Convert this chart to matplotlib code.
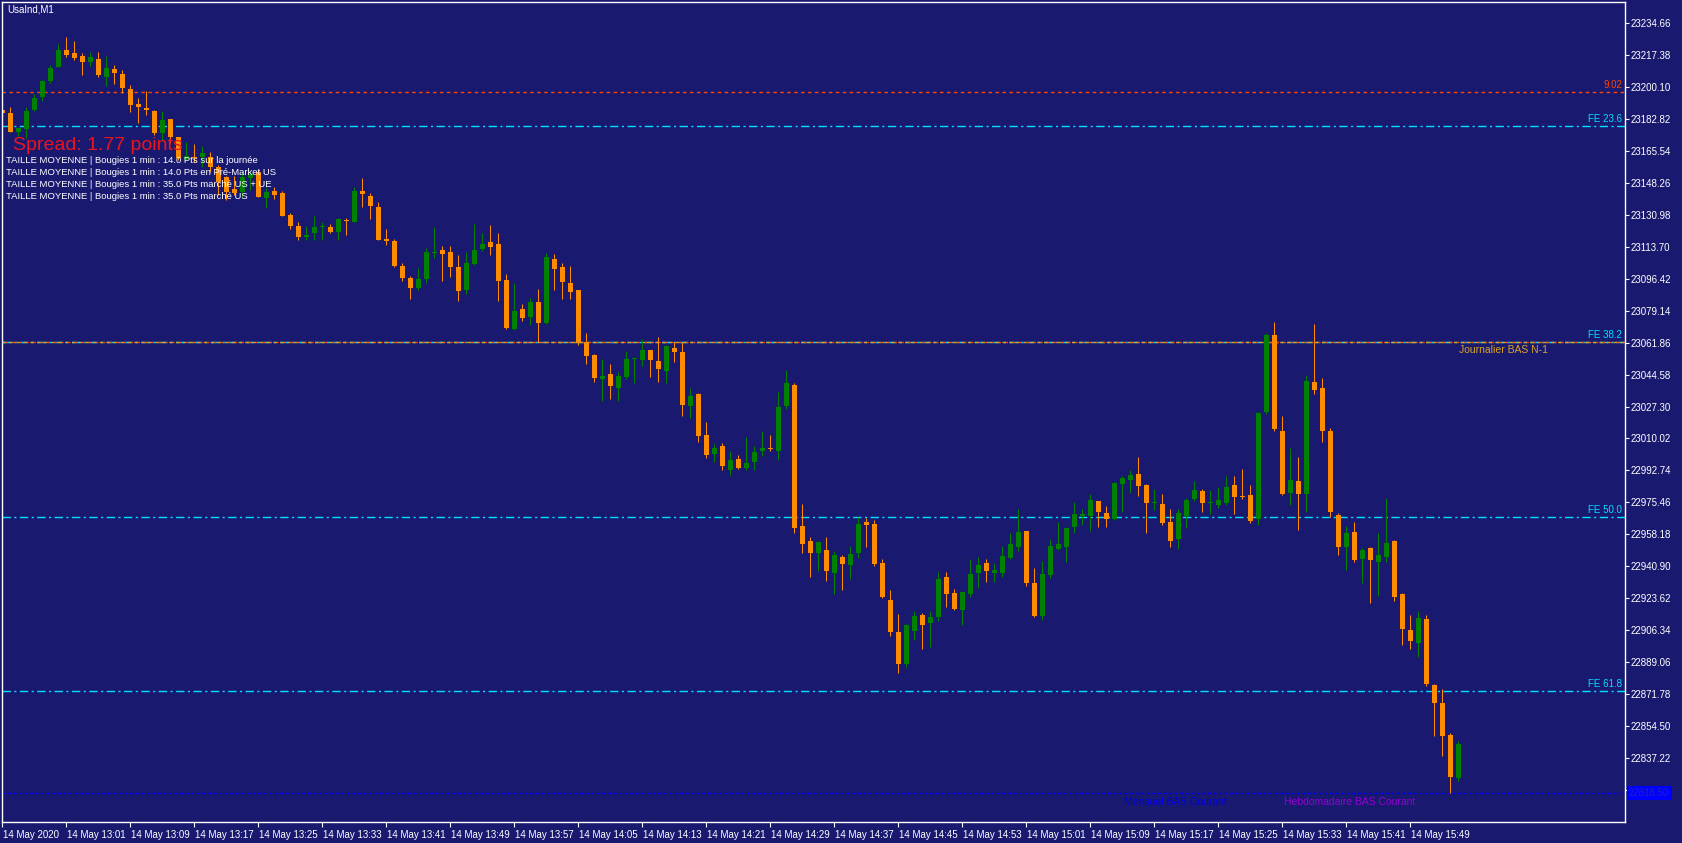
#!/usr/bin/env python3
import datetime
import numpy as np
import matplotlib
matplotlib.use('Agg')
import matplotlib.pyplot as plt
import matplotlib.transforms as mtransforms

W, H = 1683, 843
BG = '#191970'
BULL = '#008000'
BEAR = '#ff8c00'

start = datetime.datetime(2020, 5, 14, 12, 53)  # first bar on screen, M1

opens = [23187.5, 23185.9, 23175.8, 23177.2, 23187.5, 23194.7, 23203.2, 23210.9, 23219.9, 23218.3,
         23216.7, 23213.6, 23215.1, 23205.5, 23209.7, 23207.0, 23198.8, 23190.7, 23188.4, 23187.0,
         23174.9, 23182.5, 23172.8, 23160.9, 23162.3, 23162.3, 23162.3, 23156.5, 23151.5, 23144.8,
         23143.2, 23150.6, 23154.2, 23139.8, 23143.9, 23142.8, 23130.8, 23124.8, 23118.7, 23120.9,
         23124.1, 23124.4, 23121.7, 23128.1, 23127.1, 23143.7, 23141.0, 23135.1, 23117.8, 23116.7,
         23103.2, 23096.7, 23091.3, 23096.2, 23110.2, 23111.9, 23110.8, 23102.7, 23090.2, 23104.3,
         23112.4, 23116.2, 23115.1, 23095.6, 23069.2, 23080.0, 23075.7, 23083.8, 23072.4, 23107.0,
         23102.7, 23094.0, 23090.2, 23062.2, 23055.1, 23042.2, 23044.9, 23037.3, 23043.2, 23053.0,
         23052.4, 23057.8, 23051.9, 23046.5, 23058.9, 23056.7, 23027.6, 23034.1, 23011.9, 23001.6,
         23006.0, 22993.0, 22998.9, 22994.2, 22997.3, 23003.4, 23004.7, 23003.3, 23027.6, 23038.9,
         22962.7, 22954.6, 22948.1, 22949.8, 22937.3, 22946.0, 22941.7, 22948.1, 22964.9, 22963.8,
         22942.7, 22922.8, 22905.5, 22888.2, 22906.0, 22914.7, 22910.3, 22913.6, 22935.2, 22926.5,
         22917.4, 22926.0, 22937.3, 22942.7, 22937.3, 22937.3, 22945.4, 22951.4, 22960.0, 22931.9,
         22914.1, 22936.3, 22950.3, 22951.4, 22962.2, 22968.1, 22968.1, 22976.2, 22969.8, 22966.5,
         22985.4, 22987.6, 22990.8, 22984.9, 22975.3, 22974.6, 22964.9, 22955.7, 22968.1, 22977.3,
         22981.6, 22975.3, 22974.1, 22975.2, 22984.9, 22978.9, 22979.5, 22966.5, 23024.3, 23065.9,
         23014.1, 22980.6, 22987.0, 22980.0, 23040.5, 23037.3, 23014.1, 22968.7, 22951.4, 22959.5,
         22944.9, 22950.9, 22943.3, 22946.0, 22954.6, 22926.0, 22906.5, 22899.5, 22912.5, 22876.8,
         22867.1, 22849.8, 22826.6]
highs = [23188.6, 23189.0, 23178.3, 23189.0, 23196.1, 23203.7, 23212.0, 23223.2, 23227.1, 23224.8,
         23218.1, 23218.7, 23218.7, 23216.8, 23212.0, 23209.1, 23201.0, 23193.8, 23197.9, 23187.4,
         23187.0, 23182.6, 23173.1, 23170.4, 23169.0, 23168.1, 23165.0, 23157.8, 23151.8, 23152.0,
         23154.0, 23154.2, 23155.1, 23145.2, 23146.1, 23143.7, 23132.0, 23126.8, 23125.0, 23130.4,
         23126.8, 23125.9, 23129.3, 23129.3, 23146.1, 23150.9, 23142.5, 23137.6, 23123.2, 23117.8,
         23104.7, 23097.8, 23102.1, 23112.8, 23124.3, 23114.0, 23114.0, 23109.2, 23110.8, 23125.9,
         23121.0, 23125.4, 23121.0, 23098.9, 23094.0, 23082.7, 23085.9, 23090.8, 23110.2, 23109.7,
         23104.8, 23103.2, 23090.5, 23067.0, 23055.4, 23053.0, 23050.3, 23045.9, 23057.3, 23054.0,
         23063.8, 23058.1, 23064.9, 23060.5, 23062.2, 23062.2, 23037.3, 23034.6, 23018.9, 23007.0,
         23007.6, 23003.3, 23001.1, 23010.8, 23006.0, 23014.1, 23011.9, 23035.1, 23047.0, 23040.0,
         22974.6, 22956.8, 22954.4, 22956.8, 22949.2, 22947.1, 22951.9, 22967.6, 22967.1, 22966.0,
         22944.9, 22928.2, 22915.2, 22909.8, 22916.8, 22915.7, 22916.8, 22937.9, 22937.9, 22928.7,
         22927.4, 22944.9, 22946.0, 22944.9, 22942.7, 22951.9, 22959.0, 22971.9, 22960.3, 22940.0,
         22943.8, 22955.7, 22964.9, 22962.2, 22975.7, 22971.9, 22980.0, 22976.5, 22973.5, 22986.3,
         22989.8, 22993.0, 23000.0, 22985.2, 22982.7, 22980.0, 22971.9, 22971.9, 22977.9, 22987.0,
         22982.7, 22982.2, 22983.8, 22989.8, 22989.8, 22993.5, 22984.9, 23024.1, 23067.0, 23073.0,
         23022.2, 23004.9, 23000.0, 23044.3, 23071.9, 23042.7, 23015.7, 22969.8, 22962.7, 22964.9,
         22950.9, 22951.2, 22959.0, 22977.9, 22954.9, 22926.3, 22914.7, 22916.8, 22914.7, 22877.4,
         22874.7, 22850.9, 22846.6]
lows = [23185.3, 23175.6, 23173.5, 23172.2, 23186.8, 23192.4, 23202.1, 23210.5, 23216.3, 23214.5,
        23206.4, 23211.3, 23205.5, 23200.6, 23201.5, 23196.8, 23186.6, 23180.6, 23184.6, 23174.0,
        23170.9, 23169.7, 23160.5, 23160.5, 23159.6, 23156.9, 23154.2, 23141.6, 23138.9, 23141.6,
        23140.5, 23144.3, 23140.3, 23134.7, 23139.4, 23130.2, 23123.2, 23117.3, 23117.3, 23117.3,
        23117.3, 23121.0, 23117.3, 23120.0, 23127.0, 23135.3, 23128.6, 23117.0, 23114.6, 23102.9,
        23095.3, 23085.4, 23090.2, 23094.0, 23107.7, 23095.1, 23097.3, 23084.3, 23088.1, 23104.0,
        23111.3, 23109.2, 23084.3, 23069.4, 23068.9, 23073.5, 23071.3, 23062.0, 23072.0, 23090.2,
        23085.4, 23085.4, 23060.5, 23050.3, 23040.5, 23030.3, 23031.4, 23030.3, 23042.2, 23040.0,
        23049.2, 23043.2, 23040.5, 23040.0, 23051.3, 23022.2, 23021.1, 23008.1, 22999.5, 22997.3,
        22993.0, 22990.3, 22993.5, 22993.0, 22993.0, 23000.6, 23003.3, 22998.4, 23026.0, 22959.0,
        22948.1, 22935.2, 22938.4, 22933.0, 22926.0, 22928.2, 22934.1, 22945.4, 22951.4, 22941.1,
        22924.1, 22903.3, 22883.3, 22886.6, 22901.1, 22896.3, 22897.4, 22911.4, 22919.0, 22917.6,
        22909.2, 22924.4, 22929.2, 22932.5, 22932.5, 22935.2, 22945.1, 22949.2, 22930.3, 22913.6,
        22911.9, 22934.6, 22950.0, 22943.3, 22959.0, 22963.3, 22960.0, 22962.2, 22962.2, 22966.0,
        22970.3, 22980.6, 22978.9, 22959.0, 22971.4, 22963.3, 22951.4, 22950.3, 22961.7, 22976.2,
        22970.3, 22969.2, 22972.5, 22974.1, 22969.2, 22977.3, 22964.4, 22963.3, 23023.3, 23014.1,
        22979.5, 22974.1, 22960.6, 22970.3, 23034.1, 23008.1, 22967.6, 22947.1, 22939.0, 22943.3,
        22931.9, 22921.1, 22924.9, 22943.3, 22922.2, 22898.4, 22896.3, 22892.0, 22876.3, 22849.3,
        22838.5, 22818.5, 22825.0]
closes = [23185.9, 23175.8, 23177.9, 23187.0, 23193.8, 23203.3, 23210.4, 23219.9, 23217.2, 23215.8,
          23213.4, 23216.1, 23206.4, 23210.2, 23207.7, 23199.4, 23190.4, 23189.3, 23187.5, 23174.9,
          23182.1, 23172.8, 23161.4, 23162.6, 23161.4, 23164.1, 23156.9, 23148.8, 23143.4, 23142.5,
          23151.3, 23152.8, 23140.7, 23143.4, 23141.6, 23130.4, 23124.8, 23118.7, 23120.0, 23124.4,
          23124.8, 23121.7, 23128.6, 23127.7, 23143.7, 23142.0, 23135.8, 23117.3, 23116.7, 23103.2,
          23096.7, 23091.3, 23096.2, 23110.8, 23110.6, 23109.7, 23102.7, 23089.7, 23104.8, 23111.9,
          23115.1, 23113.5, 23095.1, 23069.7, 23078.9, 23075.1, 23083.8, 23072.4, 23108.1, 23101.6,
          23094.6, 23089.2, 23061.6, 23054.6, 23042.7, 23043.8, 23038.4, 23043.8, 23053.0, 23053.3,
          23057.8, 23052.4, 23047.6, 23060.0, 23056.7, 23028.1, 23033.0, 23011.4, 23001.1, 23004.9,
          22995.2, 22998.4, 22994.2, 22996.8, 23002.7, 23004.9, 23004.3, 23027.0, 23040.0, 22961.7,
          22953.0, 22948.1, 22954.1, 22938.4, 22947.1, 22942.2, 22947.6, 22963.8, 22963.3, 22942.2,
          22924.4, 22905.5, 22888.2, 22909.2, 22914.1, 22909.2, 22913.6, 22934.1, 22926.0, 22917.9,
          22927.1, 22936.8, 22941.7, 22938.4, 22939.0, 22946.5, 22953.0, 22959.5, 22931.9, 22914.1,
          22936.8, 22951.9, 22953.0, 22961.7, 22969.2, 22969.2, 22976.8, 22970.3, 22966.5, 22986.0,
          22988.7, 22990.3, 22984.3, 22975.2, 22975.9, 22964.4, 22954.6, 22969.8, 22976.8, 22982.2,
          22975.2, 22975.7, 22976.8, 22983.8, 22978.4, 22978.4, 22965.4, 23023.8, 23065.9, 23015.1,
          22980.0, 22987.6, 22980.0, 23041.1, 23036.2, 23014.1, 22970.3, 22951.4, 22959.0, 22944.4,
          22949.8, 22944.4, 22947.1, 22953.6, 22924.4, 22907.1, 22900.6, 22913.0, 22877.4, 22867.1,
          22849.3, 22827.1, 22845.0]

# horizontal levels drawn by the indicators
fe_levels = [23178.7, 23061.9, 22967.4, 22873.6]
fe_names = ['FE 23.6', 'FE 38.2', 'FE 50.0', 'FE 61.8']
red_level = 23197.2
day_low_prev = 23061.9
month_low = 22818.5
week_low = 22818.5

avg_lines = ['TAILLE MOYENNE | Bougies 1 min : 14.0 Pts sur la journée',
             'TAILLE MOYENNE | Bougies 1 min : 14.0 Pts en Pré-Market US',
             'TAILLE MOYENNE | Bougies 1 min : 35.0 Pts marché US + UE',
             'TAILLE MOYENNE | Bougies 1 min : 35.0 Pts marché US']

plt.rcParams['font.family'] = ['Liberation Sans', 'DejaVu Sans']

fig = plt.figure(figsize=(W / 100, H / 100), dpi=100, facecolor=BG)
ax = fig.add_axes([2.3 / W, 21 / H, 1622.7 / W, 819.7 / H], facecolor=BG)

o = np.array(opens)
h = np.array(highs)
l = np.array(lows)
c = np.array(closes)
idx = np.arange(len(o))
colors = np.where(c >= o, BULL, BEAR)

ax.vlines(idx, l, h, colors=colors, linewidth=0.75, zorder=2)
body = np.maximum(np.abs(c - o), 0.6)
ax.bar(idx, body, bottom=np.minimum(o, c), width=0.62, color=colors,
       linewidth=0, zorder=2)

# levels
for lv, name in zip(fe_levels, fe_names):
    ax.axhline(lv, color='#00e1ff', linewidth=1, linestyle=(0, (6, 2.5, 1.5, 2.5)), zorder=1.5)
    ax.annotate(name, xy=(1, lv), xycoords=('axes fraction', 'data'),
                xytext=(-2, 1.5), textcoords='offset points', ha='right', va='bottom',
                color='#00e1ff', fontsize=7)
ax.axhline(day_low_prev, color='#daa520', linewidth=1, linestyle=(0, (2.5, 2.5)), zorder=1.6)
ax.axhline(red_level, color='#ff4500', linewidth=1, linestyle=(0, (2.5, 2.5)), zorder=1.6)
ax.axhline(day_low_prev, color='#ff4500', linewidth=1, linestyle=(2.5, (1.5, 3.5)), zorder=1.7)
ax.annotate('9.02', xy=(1, red_level), xycoords=('axes fraction', 'data'),
            xytext=(-2, 1.5), textcoords='offset points', ha='right', va='bottom',
            color='#ff4500', fontsize=7)
ax.annotate('Journalier BAS N-1', xy=(187.6, day_low_prev), xytext=(0, -2),
            textcoords='offset points', ha='center', va='top', color='#daa520', fontsize=7.5)

ax.axhline(month_low, color='#0000ff', linewidth=1, linestyle=(0, (2, 2)), zorder=1.5)
ax.annotate('Mensuel BAS Courant', xy=(146.6, month_low), xytext=(0, -3),
            textcoords='offset points', ha='center', va='top', color='#0000e6', fontsize=7.5)
ax.annotate('Hebdomadaire BAS Courant', xy=(168.4, week_low), xytext=(0, -3),
            textcoords='offset points', ha='center', va='top', color='#9400d3', fontsize=7.5)

ax.set_xlim(0, 202.84)
ax.set_ylim(22802.8, 23245.7)

# axes and ticks, MT4 style
for s in ax.spines.values():
    s.set_color('white')
    s.set_linewidth(1)

yt = 22819.94 + 17.28 * np.arange(25)
ax.yaxis.tick_right()
ax.set_yticks(yt)
ax.set_yticklabels(['%.2f' % v for v in yt])
ax.tick_params(axis='y', colors='white', labelsize=7, length=3, width=0.8, pad=1)

xt = [0] + list(range(8, len(o), 8))
xl = []
for k in xt:
    t = start + datetime.timedelta(minutes=k)
    xl.append('14 May 2020' if k == 0 else t.strftime('%d %b %H:%M').lstrip('0'))
ax.set_xticks(xt)
ax.set_xticklabels(xl)
ax.tick_params(axis='x', colors='white', labelsize=7, length=3.5, width=0.8, pad=2)
offset = mtransforms.ScaledTranslation(1 / 100, 0, fig.dpi_scale_trans)
for lbl in ax.get_xticklabels():
    lbl.set_ha('left')
    lbl.set_transform(lbl.get_transform() + offset)

trans = mtransforms.blended_transform_factory(ax.transAxes, ax.transData)
ax.text(1.0025, month_low, '22818.50', transform=trans, ha='left', va='center',
        fontsize=7, color='#2020c0', zorder=5, clip_on=False,
        bbox=dict(boxstyle='square,pad=0.25', fc='#0000ff', ec='none'))

# texts on the chart
fig.text(7 / W, 1 - 9 / H, 'UsaInd,M1', color='white', fontsize=7, ha='left', va='center')
fig.text(13 / W, 1 - 145 / H, 'Spread: 1.77 points', color='#e8141e', fontsize=14,
         ha='left', va='center', zorder=10)
for i, line in enumerate(avg_lines):
    fig.text(6 / W, 1 - (160.7 + 12 * i) / H, line, color='white', fontsize=6.8,
             ha='left', va='center', zorder=10)

fig.savefig('out.png', dpi=100, facecolor=BG)
